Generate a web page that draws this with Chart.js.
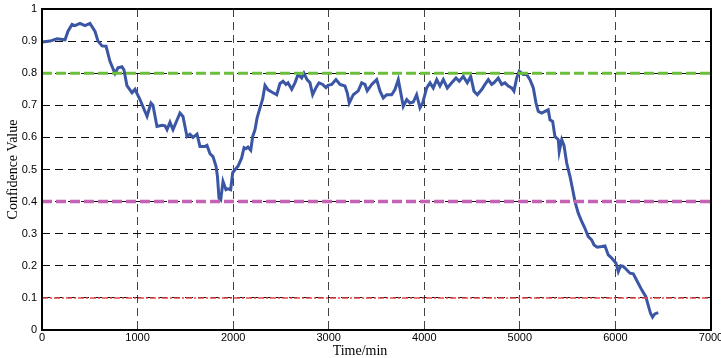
<!DOCTYPE html>
<html>
<head>
<meta charset="utf-8">
<script src="https://cdn.jsdelivr.net/npm/chart.js@4/dist/chart.umd.min.js"></script>
<style>
  html, body { margin: 0; padding: 0; background: #fff; }
  #wrap { width: 721px; height: 358px; }
</style>
</head>
<body>
<div id="wrap"><canvas id="myChart" width="721" height="358"></canvas></div>
<script>
// confidence curve
const timeMin = [0, 84, 157, 241, 272, 314, 345, 397, 450, 502, 555, 586, 628, 670, 711, 764, 795, 837, 858, 889,
  942, 973, 1025, 1099, 1140, 1161, 1203, 1256, 1287, 1308, 1339, 1371, 1444, 1475, 1517, 1548, 1580, 1622, 1653, 1705,
  1726, 1758, 1789, 1821, 1836, 1852, 1870, 1894, 1925, 1946, 1974, 1995, 2019, 2051, 2089, 2114, 2134, 2155, 2184, 2205,
  2229, 2250, 2281, 2309, 2333, 2365, 2417, 2456, 2490, 2522, 2553, 2574, 2613, 2647, 2679, 2717, 2741, 2773, 2804, 2832,
  2867, 2898, 2937, 2971, 2992, 3031, 3076, 3118, 3170, 3194, 3215, 3257, 3309, 3345, 3379, 3403, 3450, 3502, 3537, 3571,
  3607, 3659, 3693, 3728, 3764, 3780, 3816, 3850, 3885, 3920, 3955, 3983, 4025, 4060, 4094, 4130, 4164, 4199, 4241, 4287,
  4332, 4366, 4408, 4450, 4486, 4520, 4555, 4601, 4635, 4670, 4705, 4729, 4774, 4810, 4844, 4879, 4914, 4938, 4967, 4994,
  5036, 5071, 5106, 5141, 5169, 5193, 5228, 5263, 5297, 5315, 5343, 5367, 5402, 5412, 5438, 5462, 5490, 5525, 5553, 5577,
  5611, 5647, 5681, 5716, 5751, 5776, 5810, 5856, 5891, 5925, 5961, 6006, 6030, 6055, 6082, 6110, 6152, 6187, 6229, 6275,
  6318, 6342, 6367, 6388, 6412, 6448];
const confidence = [0.897, 0.900, 0.907, 0.904, 0.931, 0.952, 0.948, 0.955, 0.948, 0.955, 0.930, 0.900, 0.885, 0.884, 0.837, 0.799, 0.817, 0.820, 0.810, 0.761,
  0.739, 0.750, 0.718, 0.666, 0.707, 0.700, 0.634, 0.638, 0.636, 0.624, 0.647, 0.624, 0.676, 0.665, 0.603, 0.610, 0.600, 0.610, 0.572, 0.572,
  0.575, 0.549, 0.540, 0.510, 0.478, 0.410, 0.405, 0.463, 0.437, 0.440, 0.437, 0.490, 0.499, 0.510, 0.536, 0.568, 0.565, 0.570, 0.560, 0.603,
  0.624, 0.660, 0.692, 0.720, 0.762, 0.748, 0.739, 0.733, 0.768, 0.775, 0.765, 0.770, 0.750, 0.770, 0.796, 0.785, 0.800, 0.780, 0.770, 0.733,
  0.755, 0.770, 0.765, 0.755, 0.762, 0.765, 0.780, 0.765, 0.760, 0.739, 0.707, 0.733, 0.745, 0.770, 0.765, 0.745, 0.765, 0.780, 0.744, 0.723,
  0.733, 0.733, 0.749, 0.780, 0.723, 0.697, 0.718, 0.707, 0.710, 0.733, 0.692, 0.707, 0.754, 0.770, 0.754, 0.780, 0.760, 0.780, 0.754, 0.770,
  0.785, 0.775, 0.790, 0.770, 0.790, 0.744, 0.733, 0.749, 0.765, 0.780, 0.765, 0.770, 0.785, 0.765, 0.770, 0.760, 0.754, 0.744, 0.785, 0.806,
  0.796, 0.796, 0.780, 0.754, 0.707, 0.681, 0.676, 0.681, 0.686, 0.655, 0.650, 0.603, 0.593, 0.556, 0.593, 0.575, 0.520, 0.478, 0.437, 0.400,
  0.364, 0.338, 0.317, 0.291, 0.281, 0.265, 0.258, 0.260, 0.262, 0.234, 0.224, 0.208, 0.182, 0.200, 0.198, 0.190, 0.177, 0.175, 0.151, 0.125,
  0.104, 0.078, 0.052, 0.040, 0.050, 0.054];

// threshold levels
const upperLevel = 0.8;
const middleLevel = 0.4;
const lowerLevel = 0.1;
const xRange = [0, 7000];

const xTitle = 'Time/min';
const yTitle = 'Confidence Value';

function levelLine(v) {
    return xRange.map(x => ({ x: x, y: v }));
}

// box around the plot + axis titles
const framePlugin = {
    id: 'frame',
    afterDraw(chart) {
        const { ctx, chartArea: a } = chart;
        ctx.save();
        ctx.strokeStyle = '#000';
        ctx.lineWidth = 2;
        ctx.strokeRect(a.left, a.top, a.right - a.left, a.bottom - a.top);
        ctx.fillStyle = '#000';
        ctx.font = '14px "Liberation Serif"';
        ctx.textAlign = 'center';
        ctx.textBaseline = 'alphabetic';
        ctx.fillText(xTitle, 360, 355);
        ctx.translate(17, (a.top + a.bottom) / 2);
        ctx.rotate(-Math.PI / 2);
        ctx.fillText(yTitle, 0, 0);
        ctx.restore();
    }
};

const ctx = document.getElementById('myChart').getContext('2d');
const myChart = new Chart(ctx, {
    type: 'line',
    data: {
        datasets: [{
            label: 'confidence',
            data: timeMin.map((t, i) => ({ x: t, y: confidence[i] })),
            borderColor: '#3b56a5',
            borderWidth: 3,
            pointRadius: 0,
            tension: 0,
            order: 2
        }, {
            label: 'upper',
            data: levelLine(upperLevel),
            borderColor: '#6cbf3c',
            borderWidth: 3,
            borderDash: [10, 4],
            pointRadius: 0,
            order: 1
        }, {
            label: 'middle',
            data: levelLine(middleLevel),
            borderColor: '#c462b4',
            borderWidth: 3.5,
            borderDash: [10, 4],
            pointRadius: 0,
            order: 1
        }, {
            label: 'lower',
            data: levelLine(lowerLevel),
            borderColor: '#e8474a',
            borderWidth: 1.5,
            borderDash: [6, 2, 2, 2],
            pointRadius: 0,
            order: 1
        }]
    },
    options: {
        responsive: false,
        animation: false,
        layout: { padding: { left: 0, right: 10, top: 9, bottom: 0 } },
        plugins: {
            legend: { display: false },
            tooltip: { enabled: false }
        },
        scales: {
            x: {
                type: 'linear',
                min: 0,
                max: 7000,
                ticks: {
                    stepSize: 1000,
                    maxRotation: 0,
                    autoSkip: false,
                    color: '#000',
                    padding: 1,
                    font: { family: '"Liberation Sans"', size: 11 },
                    callback: v => String(v)
                },
                grid: { color: '#444', lineWidth: 1, drawTicks: false },
                border: { display: false, dash: [8, 5] },
                afterFit(scale) {
                    scale.height = 28;
                    scale.paddingLeft = 0;
                    scale.paddingRight = 0;
                }
            },
            y: {
                min: 0,
                max: 1,
                ticks: {
                    stepSize: 0.1,
                    color: '#000',
                    padding: 5,
                    font: { family: '"Liberation Sans"', size: 11 },
                    callback: v => String(Number(v.toFixed(1)))
                },
                grid: { color: '#111', lineWidth: 1, drawTicks: false },
                border: { display: false, dash: [8, 5] },
                afterFit(scale) {
                    scale.width = 42;
                    scale.paddingTop = 0;
                    scale.paddingBottom = 0;
                }
            }
        }
    },
    plugins: [framePlugin]
});
</script>
</body>
</html>
